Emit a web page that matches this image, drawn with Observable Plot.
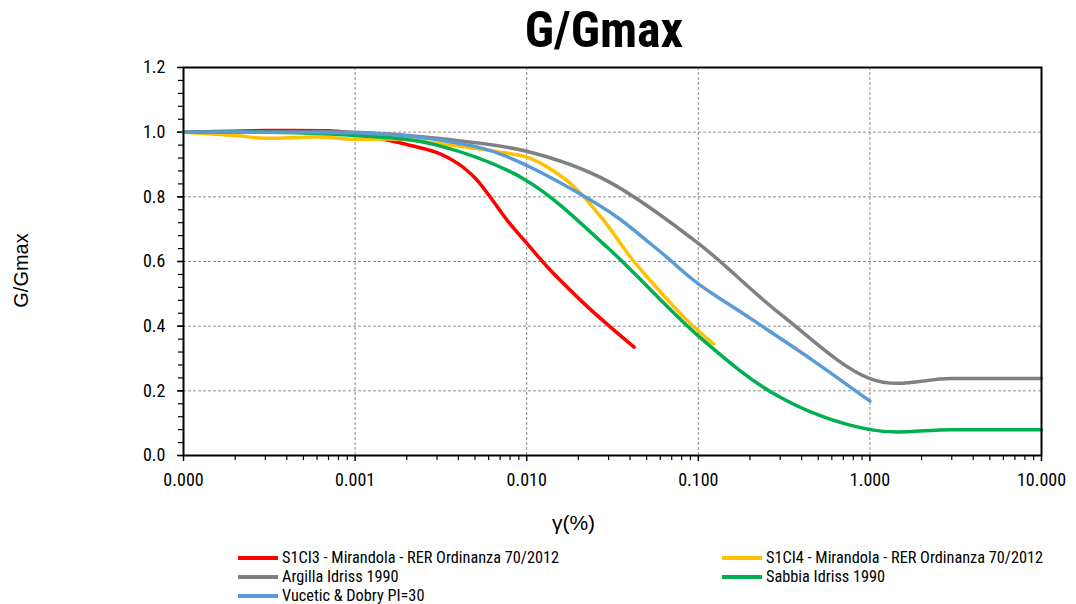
<!DOCTYPE html>
<html>
<head>
<meta charset="utf-8">
<script src="https://cdn.jsdelivr.net/npm/d3@7"></script>
<script src="https://cdn.jsdelivr.net/npm/@observablehq/plot@0.6"></script>
<style>
  html, body { margin: 0; padding: 0; background: #fff; }
  body { width: 1076px; height: 604px; position: relative; overflow: hidden;
         font-family: "Liberation Sans Narrow", "Roboto Condensed", "DejaVu Sans Condensed", sans-serif; }
  #title { position: absolute; top: 0px; left: 604px; transform: translateX(-50%);
           font-size: 50px; font-weight: bold; line-height: 60px; white-space: nowrap; color: #000; }
  #chart { position: absolute; top: 55px; left: 0; }
  .leg { position: absolute; font-size: 16.3px; line-height: 18px; white-space: nowrap; color: #000; }
  .sw { position: absolute; width: 40px; height: 4px; }
</style>
</head>
<body>
<div id="title">G/Gmax</div>
<div id="chart"></div>
<div id="legend"></div>
<script>
// ---- data ----
const seriesNames = [
  "S1CI3 - Mirandola - RER Ordinanza 70/2012",
  "S1CI4 - Mirandola - RER Ordinanza 70/2012",
  "Argilla Idriss 1990",
  "Sabbia Idriss 1990",
  "Vucetic & Dobry PI=30"
];
const seriesColors = ["#FF0000", "#FFC000", "#808080", "#00B050", "#5B9BD5"];

const s1ci3Strain = [0.0001, 0.0003, 0.0007, 0.001, 0.0014, 0.002, 0.003, 0.004, 0.005, 0.006, 0.0077, 0.01, 0.0138, 0.0217, 0.0308, 0.0423];
const s1ci3G      = [1.0, 1.005, 1.004, 0.995, 0.98, 0.962, 0.937, 0.902, 0.858, 0.806, 0.727, 0.657, 0.572, 0.469, 0.397, 0.335];

const s1ci4Strain = [0.0001, 0.0002, 0.0003, 0.0006, 0.001, 0.0018, 0.0036, 0.007, 0.01, 0.0132, 0.0188, 0.0281, 0.0403, 0.0526, 0.0823, 0.1227];
const s1ci4G      = [1.0, 0.99, 0.981, 0.985, 0.978, 0.978, 0.96, 0.938, 0.923, 0.892, 0.832, 0.727, 0.613, 0.541, 0.428, 0.345];

const argillaStrain = [0.0001, 0.0003, 0.001, 0.003, 0.01, 0.03, 0.1, 0.3, 1, 3, 10];
const argillaG      = [1.0, 1.0, 1.0, 0.981, 0.941, 0.847, 0.656, 0.438, 0.238, 0.238, 0.238];

const sabbiaStrain = [0.0001, 0.0003, 0.001, 0.003, 0.01, 0.03, 0.1, 0.3, 1, 3, 10];
const sabbiaG      = [1.0, 1.0, 0.99, 0.96, 0.85, 0.64, 0.37, 0.18, 0.08, 0.08, 0.08];

const vuceticStrain = [0.0001, 0.0003, 0.001, 0.0023, 0.0056, 0.01, 0.0197, 0.0337, 0.0526, 0.0657, 0.1, 0.2011, 0.4513, 1.0];
const vuceticG      = [1.0, 1.0, 0.998, 0.985, 0.949, 0.897, 0.814, 0.737, 0.655, 0.613, 0.531, 0.424, 0.299, 0.168];

const xTickValues = [0.0001, 0.001, 0.01, 0.1, 1, 10];
const yTickValues = [0, 0.2, 0.4, 0.6, 0.8, 1.0, 1.2];
const xTitle = "γ(%)";
const yTitle = "G/Gmax";

// ---- build tables ----
const strains = [s1ci3Strain, s1ci4Strain, argillaStrain, sabbiaStrain, vuceticStrain];
const gs = [s1ci3G, s1ci4G, argillaG, sabbiaG, vuceticG];
const curves = ["catmull-rom", "catmull-rom", "cardinal", "cardinal", "catmull-rom"];
const tables = strains.map((s, i) => s.map((x, j) => ({x, y: gs[i][j], name: seriesNames[i]})));

const xMinor = [];
for (let d = 0; d < xTickValues.length - 1; d++) for (let k = 2; k <= 9; k++) xMinor.push(xTickValues[d] * k);
const yMinor = d3.range(0, 1.2001, 0.04);

const font = '"Liberation Sans Narrow", "Roboto Condensed", "DejaVu Sans Condensed", sans-serif';
const labelFont = '"Liberation Sans", Arial, sans-serif';

const chart = Plot.plot({
  width: 1076,
  height: 490,
  marginLeft: 183,
  marginRight: 35,
  marginTop: 12,
  marginBottom: 90,
  style: {fontFamily: font, fontSize: "18px", color: "#000", background: "#fff"},
  x: {type: "log", domain: [0.0001, 10]},
  y: {domain: [0, 1.2]},
  marks: [
    Plot.gridX({ticks: xTickValues.slice(1, -1), stroke: "#8c8c8c", strokeOpacity: 1, strokeDasharray: "3,2", strokeWidth: 1}),
    Plot.gridY({ticks: yTickValues.slice(1, -1), stroke: "#8c8c8c", strokeOpacity: 1, strokeDasharray: "3,2", strokeWidth: 1}),
    Plot.axisX({ticks: xMinor, tickSize: 5, fill: "none", label: null, strokeWidth: 1.2}),
    Plot.axisX({ticks: xTickValues, tickSize: 6, tickPadding: 12, tickFormat: d3.format(".3f"), fontSize: 18, strokeWidth: 1.5, label: null}),
    Plot.axisY({ticks: yMinor, tickSize: 5, fill: "none", label: null, strokeWidth: 1.2}),
    Plot.axisY({ticks: yTickValues, tickSize: 6, tickPadding: 12, tickFormat: d3.format(".1f"), fontSize: 18, strokeWidth: 1.5, label: null}),
    ...tables.map((t, i) => Plot.line(t, {x: "x", y: "y", stroke: seriesColors[i], strokeWidth: 3.5, curve: curves[i], tension: 0})),
    Plot.frame({stroke: "#000", strokeWidth: 2}),
    Plot.text([yTitle], {frameAnchor: "left", textAnchor: "middle", dx: -162, dy: 9, rotate: -90, fontSize: 20, fontFamily: labelFont}),
    Plot.text([xTitle], {frameAnchor: "bottom", textAnchor: "middle", dx: -39, dy: 74, fontSize: 21, fontFamily: labelFont})
  ]
});
document.getElementById("chart").appendChild(chart);

// ---- legend ----
const legPos = [[238, 558], [722, 558], [238, 577], [722, 577], [238, 596]];
const leg = document.getElementById("legend");
seriesNames.forEach((n, i) => {
  const [lx, ly] = legPos[i];
  const sw = document.createElement("div");
  sw.className = "sw";
  sw.style.left = lx + "px"; sw.style.top = (ly - 2) + "px"; sw.style.background = seriesColors[i];
  leg.appendChild(sw);
  const t = document.createElement("div");
  t.className = "leg";
  t.style.left = (lx + 44) + "px"; t.style.top = (ly - 9) + "px";
  t.textContent = n;
  leg.appendChild(t);
});
</script>
</body>
</html>
